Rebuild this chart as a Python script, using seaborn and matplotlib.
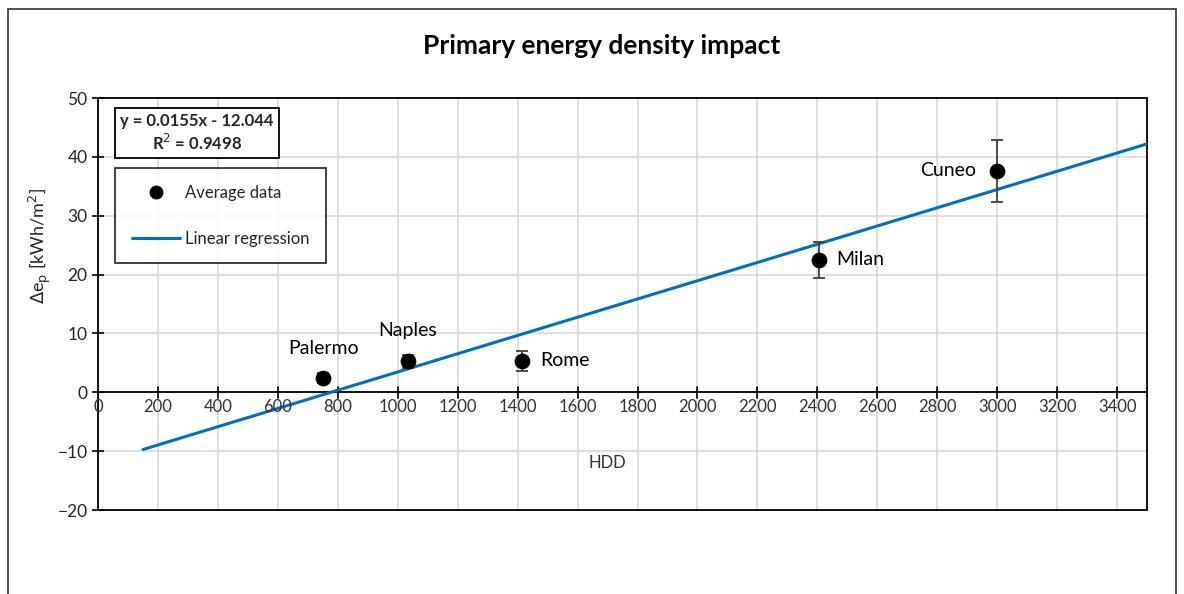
import matplotlib
matplotlib.use("Agg")
import matplotlib.pyplot as plt
from matplotlib.lines import Line2D
from matplotlib.patches import Rectangle
import numpy as np
import pandas as pd
import seaborn as sns

# data
cities = ["Palermo", "Naples", "Rome", "Milan", "Cuneo"]
hdd = [751, 1034, 1415, 2404, 3000]
delta_ep = [2.4, 5.3, 5.4, 22.5, 37.6]
err = [0.8, 1.1, 1.7, 3.0, 5.2]

# regression as printed on the chart
slope = 0.0155
intercept = -12.044
r2 = 0.9498
line_x = [150, 3500]

sns.set_theme(style="white")
plt.rcParams["font.family"] = ["Lato", "DejaVu Sans"]

fig = plt.figure(figsize=(11.84, 5.94), dpi=100)
ax = fig.add_axes([0.0828, 0.1414, 0.886, 0.6936])

fig.patches.append(Rectangle((0.007, -0.02), 0.986, 1.005, transform=fig.transFigure,
                             fill=False, edgecolor="#333333", linewidth=1.2))

pts = pd.DataFrame({"HDD": hdd, "dep": delta_ep, "city": cities})
reg = pd.DataFrame({"HDD": line_x, "dep": [slope * x + intercept for x in line_x]})

sns.lineplot(data=reg, x="HDD", y="dep", ax=ax, color="#0070C0", linewidth=2.2, zorder=3)
ax.errorbar(hdd, delta_ep, yerr=err, fmt="none", ecolor="#404040", elinewidth=1.3,
            capsize=4, capthick=1.3, zorder=4)
sns.scatterplot(data=pts, x="HDD", y="dep", ax=ax, color="black", s=110,
                edgecolor="black", zorder=5)

ax.set_xlim(0, 3500)
ax.set_ylim(-20, 50)
ax.set_yticks(range(-20, 51, 10))
ax.set_yticklabels([str(v).replace("-", "\u2212") for v in range(-20, 51, 10)], fontsize=12.5)
ax.set_xticks(range(0, 3501, 200))
ax.set_xticklabels([])
ax.grid(True, color="#d9d9d9", linewidth=1.2)
ax.set_axisbelow(True)
ax.tick_params(axis="x", length=0)
ax.tick_params(axis="y", direction="inout", length=8, width=1.2, color="black", left=True)

for s in ax.spines.values():
    s.set_color("black")
    s.set_linewidth(1.3)

# x axis drawn at y = 0
ax.axhline(0, color="black", linewidth=1.3, zorder=2)
for x in range(200, 3401, 200):
    ax.plot([x, x], [-0.9, 0.9], color="black", linewidth=1.2, zorder=2)
for x in range(0, 3401, 200):
    ax.text(x, -2.5, str(x), ha="center", va="center", fontsize=12, color="#333333")

ax.set_xlabel("")
ax.set_ylabel("")
ax.text(1700, -12, "HDD", ha="center", va="center", fontsize=12, color="#333333")
fig.text(0.034, 0.585, r"$\Delta$e$_\mathrm{p}$ [kWh/m$^2$]", rotation=90, ha="center",
         va="center", fontsize=13)

fig.text(0.508, 0.923, "Primary energy density impact", ha="center", va="center",
         fontsize=19, fontweight="bold", color="black")

offsets = {"Palermo": (0, 5.1, "center"), "Naples": (0, 5.2, "center"),
           "Rome": (60, 0, "left"), "Milan": (60, 0, "left"), "Cuneo": (-70, 0, "right")}
for c, x, y in zip(cities, hdd, delta_ep):
    dx, dy, ha = offsets[c]
    ax.text(x + dx, y + dy, c, ha=ha, va="center", fontsize=14, color="black", zorder=6)

ax.text(0.021, 0.915, "y = 0.0155x - 12.044\n" + "R$^2$ = %.4f" % r2, transform=ax.transAxes,
        ha="left", va="center", fontsize=12, fontweight="bold", linespacing=1.25,
        multialignment="center",
        bbox=dict(boxstyle="square,pad=0.3", facecolor="white", edgecolor="black", linewidth=1.3))

handles = [Line2D([], [], marker="o", linestyle="none", color="black", markersize=9),
           Line2D([], [], color="#0070C0", linewidth=2.2)]
leg = ax.legend(handles, ["Average data", "Linear regression"], loc="upper left",
                bbox_to_anchor=(0.0162, 0.830), frameon=True, fancybox=False, fontsize=12,
                labelspacing=1.8, borderpad=1.0, handlelength=2.9, handletextpad=0.3,
                borderaxespad=0)
leg.get_frame().set_edgecolor("black")
leg.get_frame().set_linewidth(1.3)

fig.savefig("out.png", dpi=100)
